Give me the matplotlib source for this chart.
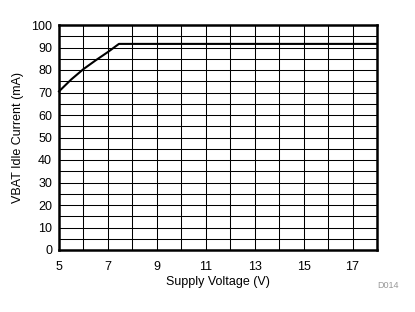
import matplotlib

matplotlib.use("Agg")
import matplotlib.pyplot as plt
import numpy as np

supply_v = [5.0, 5.5, 6.0, 6.5, 7.0, 7.45, 18.0]
idle_ma = [70.5, 75.8, 80.4, 84.3, 88.0, 91.6, 91.6]

x_ticks = [5, 7, 9, 11, 13, 15, 17]
y_ticks = list(range(0, 101, 10))

plt.rcParams.update({"font.family": ["Liberation Sans", "DejaVu Sans"], "font.size": 9})

fig = plt.figure(figsize=(4.15, 3.12), dpi=100)
ax = fig.add_axes([59 / 415, 62 / 312, 318 / 415, 225 / 312])

ax.plot(supply_v, idle_ma, color="black", lw=1.5, zorder=3, clip_on=False)

ax.set_xlim(5, 18)
ax.set_ylim(0, 100)
ax.set_xticks(x_ticks)
ax.set_xticks(np.arange(5, 19, 1), minor=True)
ax.set_yticks(y_ticks)
ax.set_yticks(np.arange(0, 101, 5), minor=True)
ax.grid(True, which="both", color="black", lw=0.75)
ax.tick_params(axis="x", which="both", length=0, pad=8)
ax.tick_params(axis="y", which="both", length=0, pad=5)
for s in ax.spines.values():
    s.set_linewidth(1.8)

ax.set_xlabel("Supply Voltage (V)", labelpad=2)
ax.set_ylabel("VBAT Idle Current (mA)", labelpad=5)
fig.text(388 / 415, 1 - 286 / 312, "D014", fontsize=6.5, color="#999999", ha="center", va="center")

fig.savefig("out.png", dpi=100)
